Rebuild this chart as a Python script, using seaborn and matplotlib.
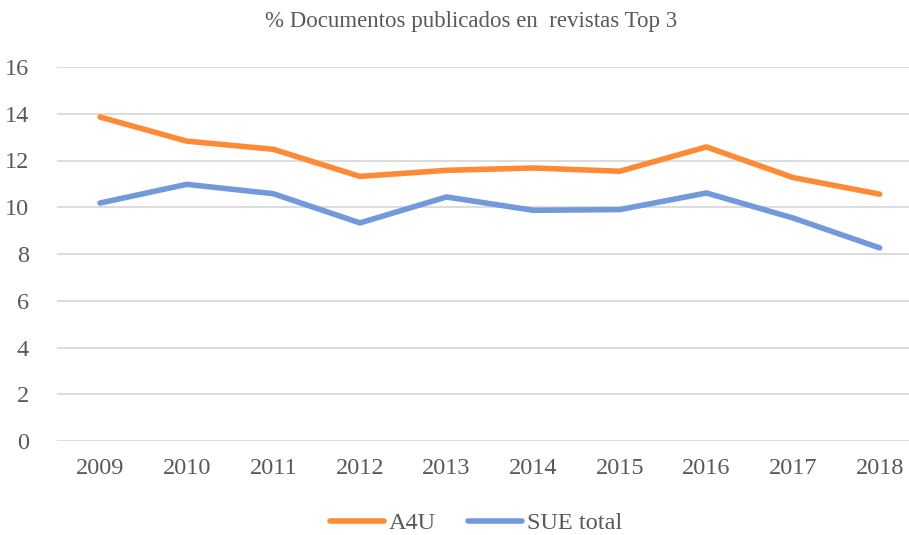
import matplotlib
matplotlib.use("Agg")
import matplotlib.pyplot as plt
import seaborn as sns
import pandas as pd

years = ["2009", "2010", "2011", "2012", "2013", "2014", "2015", "2016", "2017", "2018"]
a4u = [13.86, 12.83, 12.48, 11.32, 11.58, 11.68, 11.54, 12.58, 11.27, 10.56]
sue_total = [10.18, 10.98, 10.58, 9.33, 10.44, 9.87, 9.90, 10.61, 9.54, 8.26]
series_names = ["A4U", "SUE total"]
title = "% Documentos publicados en  revistas Top 3"

df = pd.DataFrame({
    "year": years * 2,
    "value": a4u + sue_total,
    "series": [series_names[0]] * len(years) + [series_names[1]] * len(years),
})

sns.set_style("white")
plt.rcParams["font.family"] = ["Liberation Serif", "DejaVu Serif"]
text_color = "#595959"

W, H = 909, 535
fig = plt.figure(figsize=(W / 100, H / 100), dpi=100)
left, right, top, bottom = 56.7, 923.0, 67.0, 441.0
ax = fig.add_axes([left / W, (H - bottom) / H, (right - left) / W, (bottom - top) / H])

palette = {"A4U": "#FF8A35", "SUE total": "#7299DB"}
sns.lineplot(data=df, x="year", y="value", hue="series", palette=palette,
             linewidth=4.0, ax=ax, legend=False, sort=False)
for ln in ax.lines:
    ln.set_solid_capstyle("round")
    ln.set_solid_joinstyle("round")

ax.set_xlim(-0.5, len(years) - 0.5)
ax.set_ylim(0, 16)
ax.set_yticks(range(0, 17, 2))
ax.set_xticks(range(len(years)))
ax.set_xticklabels(years)
ax.set_xlabel("")
ax.set_ylabel("")
ax.grid(axis="y", color="#D9D9D9", linewidth=1.3)
ax.set_axisbelow(True)
for s in ax.spines.values():
    s.set_visible(False)
ax.tick_params(axis="y", length=0, pad=20, labelsize=17.5, labelcolor=text_color)
ax.tick_params(axis="x", length=0, pad=12, labelsize=17.5, labelcolor=text_color)

fig.text(471 / W, 1 - 22 / H, title, ha="center", va="center", fontsize=16.5, color=text_color)

from matplotlib.lines import Line2D
handles = [Line2D([0], [0], color=palette[n], linewidth=4.0, solid_capstyle="round") for n in series_names]
fig.legend(handles, series_names, loc="center", bbox_to_anchor=(476 / W, 1 - 523 / H),
           ncol=2, frameon=False, fontsize=17.5, labelcolor=text_color,
           handlelength=2.25, handletextpad=0.2, columnspacing=1.3)

fig.savefig("out.png", dpi=100)
